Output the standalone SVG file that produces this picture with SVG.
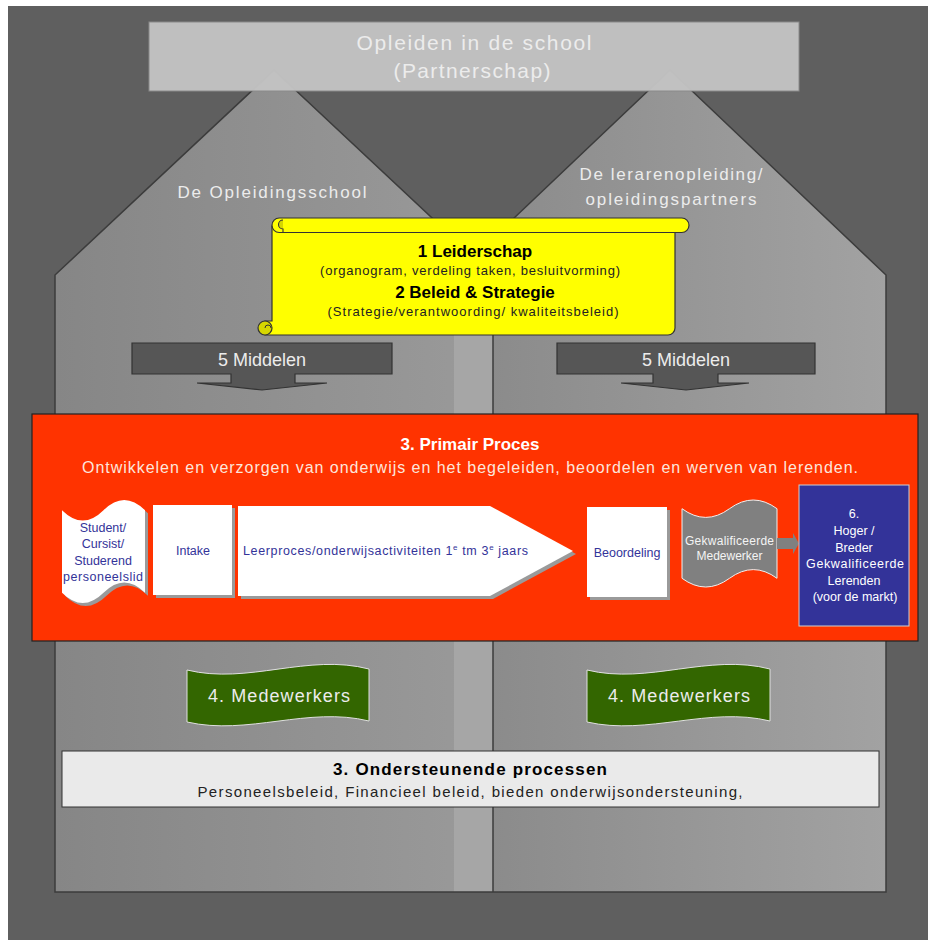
<svg xmlns="http://www.w3.org/2000/svg" width="928" height="940" viewBox="0 0 928 940">
<defs>
<style>
text{font-family:"Liberation Sans",Arial,sans-serif;}
.lt{fill:#ececec;}
.blue{fill:#333399;font-size:12.5px;}
.wh{fill:#ffffff;}
.outline{fill:none;stroke:#3c3c3c;stroke-width:1.5;}
.shadow{fill:#9a9a9a;}
.card{fill:#ffffff;}
.mid{fill:#565656;stroke:#333;stroke-width:1.2;}
.flag{fill:#336600;stroke:#e0e0e0;stroke-width:1;}
</style>
<linearGradient id="gL" x1="0" y1="0" x2="1" y2="0">
<stop offset="0" stop-color="#868686"/><stop offset="1" stop-color="#9a9a9a"/>
</linearGradient>
<linearGradient id="gR" x1="0" y1="0" x2="1" y2="0">
<stop offset="0" stop-color="#898989"/><stop offset="1" stop-color="#a2a2a2"/>
</linearGradient>
</defs>

<rect x="8" y="6" width="920" height="934" fill="#5f5f5f"/>

<g id="houses">
<polygon points="454,275 670,70 886,275 886,892 454,892" fill="url(#gR)"/>
<polygon points="55,892 55,275 274,70 493,275 493,892" fill="url(#gL)"/>
<polygon points="454,275 473,257 493,275 493,892 454,892" fill="#a6a6a6"/>
<path class="outline" d="M454,275 L670,70 L886,275 L886,892 L493,892"/>
<path class="outline" d="M493,892 L55,892 L55,275 L274,70 L493,275 L493,892"/>
</g>

<g id="top-box">
<rect x="149" y="22" width="650" height="69" fill="#c2c2c2" fill-opacity="0.97" stroke="#8a8a8a" stroke-width="1"/>
<text class="lt" x="474" y="50" font-size="21" text-anchor="middle" textLength="235">Opleiden in de school</text>
<text class="lt" x="472" y="78" font-size="21" text-anchor="middle" textLength="157">(Partnerschap)</text>
</g>

<g id="house-labels">
<text class="lt" x="272" y="198" font-size="17" text-anchor="middle" textLength="189">De Opleidingsschool</text>
<text class="lt" x="671" y="180" font-size="17" text-anchor="middle" textLength="183">De lerarenopleiding/</text>
<text class="lt" x="671" y="205" font-size="17" text-anchor="middle" textLength="171">opleidingspartners</text>
</g>

<g id="scroll">
<path d="M272,226 L675,226 L675,328 A7,7 0 0 1 668,335 L265,335 L265,321 L272,321 Z" fill="#ffff00" stroke="#333" stroke-width="1.2"/>
<rect x="272" y="218" width="417" height="14.5" rx="7.2" ry="7.2" fill="#ffff00" stroke="#333" stroke-width="1.2"/>
<path d="M283,220 A4.5,4.5 0 0 0 283,229 L283,232" fill="#d6d600" stroke="#333" stroke-width="1.1"/>
<circle cx="265" cy="328" r="7" fill="#d6d600" stroke="#333" stroke-width="1.2"/>
<path d="M265,328 A3,3 0 0 1 271,328" fill="none" stroke="#333" stroke-width="1"/>
<text x="475" y="257" font-size="17" font-weight="bold" text-anchor="middle" fill="#000">1 Leiderschap</text>
<text x="470" y="275" font-size="13" text-anchor="middle" fill="#222" textLength="300">(organogram, verdeling taken, besluitvorming)</text>
<text x="475" y="298" font-size="17" font-weight="bold" text-anchor="middle" fill="#000">2 Beleid &amp; Strategie</text>
<text x="473" y="316" font-size="13" text-anchor="middle" fill="#222" textLength="291">(Strategie/verantwoording/ kwaliteitsbeleid)</text>
</g>

<g id="middelen-left">
<path class="mid" d="M132,343 L392,343 L392,374 L295,374 L295,383 L327,383 L262,390 L197,383 L231,383 L231,374 L132,374 Z"/>
<text class="lt" x="262" y="366" font-size="18" text-anchor="middle">5 Middelen</text>
</g>
<g id="middelen-right">
<path class="mid" d="M557,343 L815,343 L815,374 L718,374 L718,383 L749,383 L686,390 L621,383 L653,383 L653,374 L557,374 Z"/>
<text class="lt" x="686" y="366" font-size="18" text-anchor="middle">5 Middelen</text>
</g>

<g id="primair-proces">
<rect x="32" y="414" width="886" height="227" fill="#ff3300" stroke="#222" stroke-width="1.2"/>
<text class="wh" x="470" y="450" font-size="17" font-weight="bold" text-anchor="middle">3. Primair Proces</text>
<text x="470" y="473" font-size="16" text-anchor="middle" fill="#fde6dc" textLength="776">Ontwikkelen en verzorgen van onderwijs en het begeleiden, beoordelen en werven van lerenden.</text>
</g>

<g id="student">
<path class="shadow" transform="translate(3,3)" d="M62,510.3 Q82.75,530.9 103.5,510.3 Q124.25,489.7 145,510.3 L145,592.7 Q124.25,572.1 103.5,592.7 Q82.75,613.3 62,592.7 Z"/>
<path class="card" d="M62,510.3 Q82.75,530.9 103.5,510.3 Q124.25,489.7 145,510.3 L145,592.7 Q124.25,572.1 103.5,592.7 Q82.75,613.3 62,592.7 Z"/>
<text class="blue" x="103" y="532" text-anchor="middle">Student/</text>
<text class="blue" x="103" y="548" text-anchor="middle">Cursist/</text>
<text class="blue" x="103" y="565" text-anchor="middle">Studerend</text>
<text class="blue" x="103" y="581" text-anchor="middle" textLength="80">personeelslid</text>
</g>

<g id="intake">
<rect class="shadow" x="156" y="508" width="79" height="90"/>
<rect class="card" x="153" y="505" width="79" height="90"/>
<text class="blue" x="193" y="555" text-anchor="middle">Intake</text>
</g>

<g id="leerproces">
<polygon class="shadow" transform="translate(3,3)" points="238,506 490,506 573,551 490,596 238,596"/>
<polygon class="card" points="238,506 490,506 573,551 490,596 238,596"/>
<text class="blue" x="243" y="555" textLength="285">Leerproces/onderwijsactiviteiten 1<tspan font-size="8" dy="-5">e</tspan><tspan dy="5"> tm 3</tspan><tspan font-size="8" dy="-5">e</tspan><tspan dy="5"> jaars</tspan></text>
</g>

<g id="beoordeling">
<rect class="shadow" x="590" y="510" width="80" height="90"/>
<rect class="card" x="587" y="507" width="80" height="90"/>
<text class="blue" x="627" y="557" text-anchor="middle">Beoordeling</text>
</g>

<g id="gekwalificeerde">
<path d="M682,508.7 Q705.75,526.1 729.5,508.7 Q753.25,491.3 777,508.7 L777,578.3 Q753.25,560.9 729.5,578.3 Q705.75,595.7 682,578.3 Z" fill="#808080" stroke="#f0f0f0" stroke-width="1"/>
<text x="729.5" y="545" font-size="12" text-anchor="middle" fill="#f4f4f4" textLength="89">Gekwalificeerde</text>
<text x="729.5" y="560" font-size="12" text-anchor="middle" fill="#f4f4f4">Medewerker</text>
</g>

<g id="connectors">
<path d="M777,538 L793,538 L793,533 L799,543.5 L793,554 L793,549 L777,549 Z" fill="#808080"/>
</g>

<g id="hoger">
<rect x="799" y="485" width="110" height="141" fill="#333399" stroke="#d0d0d0" stroke-width="1"/>
<text class="wh" x="854" y="518" font-size="12.5" text-anchor="middle">6.</text>
<text class="wh" x="854" y="535" font-size="12.5" text-anchor="middle">Hoger /</text>
<text class="wh" x="854" y="552" font-size="12.5" text-anchor="middle">Breder</text>
<text class="wh" x="855" y="568" font-size="12.5" text-anchor="middle" textLength="98">Gekwalificeerde</text>
<text class="wh" x="854" y="585" font-size="12.5" text-anchor="middle">Lerenden</text>
<text class="wh" x="855" y="601" font-size="12.5" text-anchor="middle">(voor de markt)</text>
</g>

<g id="medewerkers-left">
<path class="flag" d="M187,670 C248,685 308,653 369,669 L369,721 C308,706 248,736 187,722 Z"/>
<text class="lt" x="279" y="702" font-size="18" text-anchor="middle" textLength="142">4. Medewerkers</text>
</g>
<g id="medewerkers-right">
<path class="flag" d="M587,670 C648,685 709,653 770,669 L770,721 C709,706 648,736 587,722 Z"/>
<text class="lt" x="679" y="702" font-size="18" text-anchor="middle" textLength="142">4. Medewerkers</text>
</g>

<g id="ondersteunende">
<rect x="62" y="751" width="817" height="56" fill="#eaeaea" stroke="#333" stroke-width="1"/>
<text x="470" y="775" font-size="17" font-weight="bold" text-anchor="middle" fill="#000" textLength="274">3. Ondersteunende processen</text>
<text x="470" y="797" font-size="15" text-anchor="middle" fill="#222" textLength="545">Personeelsbeleid, Financieel beleid, bieden onderwijsondersteuning,</text>
</g>
</svg>
